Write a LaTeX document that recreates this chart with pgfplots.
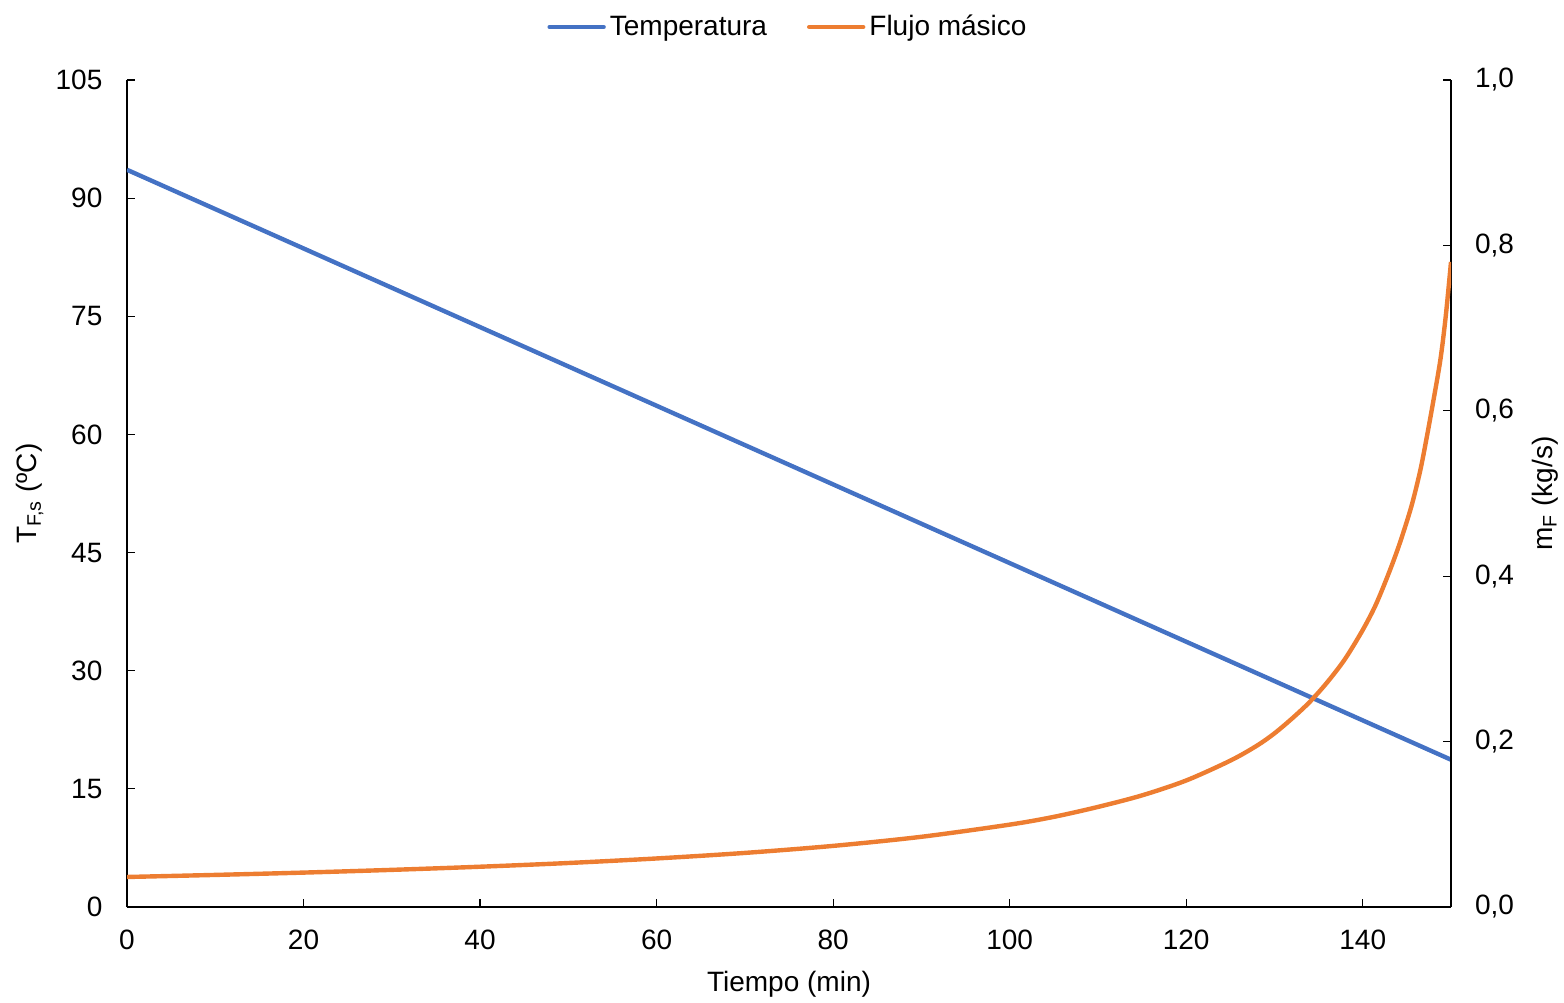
\documentclass[border=0pt]{standalone}
\usepackage{pgfplots}
\pgfplotsset{compat=1.18}
\usepackage{fontspec}
\setmainfont{Liberation Sans}
\definecolor{cblue}{HTML}{4472C4}
\definecolor{corange}{HTML}{ED7D31}
\newcommand{\fs}{\fontsize{14}{16}\selectfont}
\begin{document}
\begin{tikzpicture}
\pgfplotsset{
  every axis/.append style={
    scale only axis, width=662pt, height=413.5pt,
    xmin=0, xmax=150,
    tick align=inside, major tick length=4pt,
    tick style={black, line width=0.6pt},
    axis line style={black, line width=0.8pt},
    /pgf/number format/assume math mode=true,
    tick label style={font=\fs},
    label style={font=\fs},
  }
}
\begin{axis}[
  name=ax1,
  ymin=0, ymax=105,
  axis x line*=bottom, axis y line*=left,
  xtick={0,20,...,140}, ytick={0,15,...,105},
  xticklabel style={yshift=-7.8pt},
  yticklabel style={xshift=-8.8pt},
  xlabel={Tiempo (min)},
  xlabel style={at={(axis description cs:0.5,-0.0931)}, anchor=center},
  ylabel={T\textsubscript{F,s} (ºC)},
  ylabel style={at={(axis description cs:-0.0733,0.5)}, anchor=center},
]
\addplot[cblue, line width=2.2pt] coordinates {(0,93.6) (150,18.7)};
\end{axis}
\begin{axis}[
  ymin=0, ymax=1,
  axis x line=none, axis y line*=right,
  ytick={0,0.2,...,1.0},
  yticklabel style={xshift=8.5pt, /pgf/number format/.cd, use comma, fixed, fixed zerofill, precision=1},
  ylabel={m\textsubscript{F} (kg/s)},
  ylabel style={at={(axis description cs:1.071,0.5)}, anchor=center},
  legend style={at={(axis description cs:0.5,1)}, yshift=26.5pt, anchor=center, draw=none, fill=none,
    legend columns=2, font=\fs, inner sep=0pt,
    /tikz/every even column/.style={column sep=18pt}},
  legend cell align=left,
  legend image code/.code={\draw[#1, line cap=round] (0pt,0pt) -- (27pt,0pt);},
]
\addlegendimage{cblue, line width=2.2pt}
\addlegendentry{Temperatura}
\addplot[corange, line width=2.2pt, smooth] coordinates {
(0,0.0363) (10,0.0388) (20,0.0416) (30,0.0449) (40,0.0487) (50,0.0532)
(60,0.0587) (70,0.0654) (80,0.0739) (90,0.0849) (100,0.0996) (105,0.109)
(110,0.121) (115,0.135) (120,0.153) (125,0.177) (128,0.195) (130,0.210)
(132,0.228) (134,0.248) (136,0.272) (138,0.300) (140,0.335) (141.5,0.366)
(143,0.405) (144.2,0.440) (145.5,0.484) (146.5,0.527) (147.2,0.565)
(148.0,0.612) (148.8,0.662) (149.4,0.714) (150,0.780)};
\addlegendentry{Flujo másico}
\end{axis}
\pgfresetboundingbox
\path[use as bounding box] (ax1.south west) ++(-63.5pt,-47.5pt) rectangle ++(782pt,501pt);
\end{tikzpicture}
\end{document}
